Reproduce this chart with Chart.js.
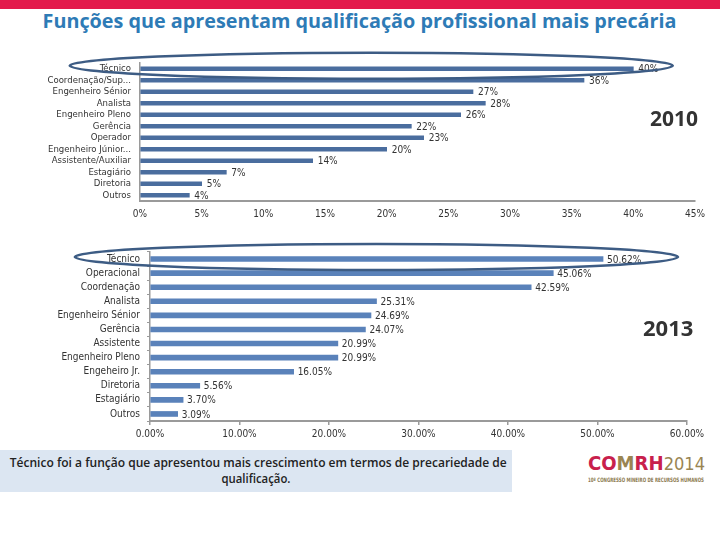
<!DOCTYPE html>
<html lang="pt">
<head>
<meta charset="utf-8">
<title>Funções que apresentam qualificação profissional mais precária</title>
<script src="https://cdn.jsdelivr.net/npm/chart.js@4.4.1/dist/chart.umd.min.js"></script>
<style>
  html, body { margin: 0; padding: 0; background: #fff; }
  #page { position: relative; width: 720px; height: 540px; overflow: hidden; font-family: 'Open Sans', sans-serif; }
  #topbar { position: absolute; left: 0; top: 0; width: 720px; height: 9px; background: #E31B4C; }
  #title { position: absolute; left: 0; top: 9px; width: 720px; height: 24px; text-align: center;
           font-size: 20px; line-height: 24px; font-weight: bold; color: #2E7BB6; white-space: nowrap; }
  .fit { display: inline-block; transform-origin: center center; white-space: nowrap; }
  .fit.left { transform-origin: left center; }
  canvas { position: absolute; left: 0; }
  #c2010 { top: 40px; }
  #c2013 { top: 236px; }
  .year { position: absolute; font-weight: bold; color: #333; line-height: 24px; }
  #note { position: absolute; left: 0; top: 450px; width: 512px; height: 42px; background: #DCE6F2;
          text-align: center; color: #222; font-size: 12.5px; font-weight: 600; }
  #note div { line-height: 16px; height: 16px; }
  #logo { position: absolute; left: 588px; top: 452px; width: 140px; }
  #logo .big { font-family: 'Liberation Sans Narrow', 'DejaVu Sans Condensed', sans-serif; font-size: 20px;
               line-height: 22px; font-weight: bold; white-space: nowrap; }
  #logo .red { color: #C8204C; }
  #logo .gold { color: #9A8552; }
  #logo .yr { font-weight: normal; font-size: 18px; color: #9A8552; }
  #logo .sub { font-family: 'Liberation Sans Narrow', 'DejaVu Sans Condensed', sans-serif; font-size: 6px;
               line-height: 8px; font-weight: bold; color: #8C7A50; white-space: nowrap; margin-top: 1px; }
</style>
</head>
<body>
<div id="page">
  <div id="topbar"></div>
  <div id="title"><span class="fit" data-w="634">Funções que apresentam qualificação profissional mais precária</span></div>

  <canvas id="c2010" width="720" height="190"></canvas>
  <canvas id="c2013" width="720" height="210"></canvas>

  <div class="year" style="left:650px; top:106px; font-size:21px;">2010</div>
  <div class="year" style="left:643px; top:315px; font-size:22px;">2013</div>

  <div id="note">
    <div style="padding-top:5px;"><span class="fit" data-w="497">Técnico foi a função que apresentou mais crescimento em termos de precariedade de</span></div>
    <div><span class="fit" data-w="69">qualificação.</span></div>
  </div>

  <div id="logo">
    <div class="big"><span class="fit left" data-w="117"><span class="red">CO</span><span class="gold">M</span><span class="red">RH</span><span class="yr">2014</span></span></div>
    <div class="sub"><span class="fit left" data-w="116">10º CONGRESSO MINEIRO DE RECURSOS HUMANOS</span></div>
  </div>
</div>

<script>
// ---------------------------------------------------------------------------
//  Data
// ---------------------------------------------------------------------------

const labels2010 = [
  'Técnico', 'Coordenação/Sup...', 'Engenheiro Sénior', 'Analista', 'Engenheiro Pleno',
  'Gerência', 'Operador', 'Engenheiro Júnior...', 'Assistente/Auxiliar', 'Estagiário',
  'Diretoria', 'Outros',
];
const values2010 = [40, 36, 27, 28, 26, 22, 23, 20, 14, 7, 5, 4];
const ticks2010  = [0, 5, 10, 15, 20, 25, 30, 35, 40, 45];

const labels2013 = [
  'Técnico', 'Operacional', 'Coordenação', 'Analista', 'Engenheiro Sénior',
  'Gerência', 'Assistente', 'Engenheiro Pleno', 'Engeheiro Jr.', 'Diretoria',
  'Estagiário', 'Outros',
];
const values2013 = [50.62, 45.06, 42.59, 25.31, 24.69, 24.07, 20.99, 20.99, 16.05, 5.56, 3.70, 3.09];
const ticks2013  = [0, 10, 20, 30, 40, 50, 60];

// ---------------------------------------------------------------------------
//  Text fitting (title, note, logo)
// ---------------------------------------------------------------------------

document.querySelectorAll('.fit').forEach(el => {
  const w = el.getBoundingClientRect().width;
  const target = parseFloat(el.dataset.w);
  if (w > 0) el.style.transform = `scaleX(${target / w})`;
});

// ---------------------------------------------------------------------------
//  Plugins
// ---------------------------------------------------------------------------

const valueLabels = {
  id: 'valueLabels',
  afterDatasetsDraw(chart, args, opts) {
    const { ctx } = chart;
    const data = chart.data.datasets[0].data;
    ctx.save();
    ctx.font = opts.font;
    ctx.fillStyle = opts.color;
    ctx.textAlign = 'left';
    ctx.textBaseline = 'middle';
    chart.getDatasetMeta(0).data.forEach((bar, i) => {
      ctx.fillText(opts.format(data[i]), bar.x + opts.offset, bar.y + 1);
    });
    ctx.restore();
  },
};

// hand-drawn style ring around the first category
const ringMark = {
  id: 'ringMark',
  afterDraw(chart, args, opts) {
    const { ctx } = chart;
    const x = chart.scales.x, y = chart.scales.y;
    const x0 = x.getPixelForValue(opts.from);
    const x1 = x.getPixelForValue(opts.to);
    const cy = y.getPixelForValue(0) + opts.dy;
    ctx.save();
    ctx.strokeStyle = opts.color;
    ctx.lineWidth = opts.width;
    ctx.beginPath();
    ctx.ellipse((x0 + x1) / 2, cy, (x1 - x0) / 2, opts.ry, 0, 0, Math.PI * 2);
    ctx.stroke();
    ctx.restore();
  },
};

// ---------------------------------------------------------------------------
//  Charts
// ---------------------------------------------------------------------------

Chart.defaults.font.family = "'Liberation Sans Narrow', 'DejaVu Sans Condensed', sans-serif";
Chart.defaults.font.size = 10;
Chart.defaults.color = '#333';

function makeChart(id, labels, values, ticks, cfg) {
  return new Chart(document.getElementById(id), {
    type: 'bar',
    data: {
      labels,
      datasets: [{ data: values, backgroundColor: cfg.barColor, barThickness: cfg.barThickness }],
    },
    plugins: [valueLabels, ringMark],
    options: {
      indexAxis: 'y',
      responsive: false,
      animation: false,
      devicePixelRatio: 1,
      layout: { padding: cfg.padding },
      plugins: {
        legend: { display: false },
        tooltip: { enabled: false },
        valueLabels: {
          font: "10px 'Liberation Sans Narrow', 'DejaVu Sans Condensed', sans-serif",
          color: '#333', offset: cfg.labelOffset, format: cfg.format,
        },
        ringMark: cfg.ring,
      },
      scales: {
        x: {
          type: 'linear',
          min: ticks[0], max: ticks[ticks.length - 1],
          ticks: { stepSize: ticks[1] - ticks[0], maxRotation: 0, autoSkip: false,
                   padding: cfg.xTickPad, callback: cfg.tickFmt },
          grid: { drawOnChartArea: false, drawTicks: cfg.tickMarks, tickLength: 4, color: '#9a9a9a', lineWidth: 1.5 },
          border: { color: '#9a9a9a', width: 2 },
          afterFit: s => { s.height = cfg.xHeight; },
        },
        y: {
          ticks: { padding: cfg.yTickPad, autoSkip: false, font: { size: cfg.yFont } },
          grid: { drawOnChartArea: false, drawTicks: cfg.tickMarks, tickLength: 3, color: '#9a9a9a' },
          border: { color: '#9a9a9a', width: 1.5 },
          afterFit: s => { s.width = cfg.yWidth; },
        },
      },
    },
  });
}

makeChart('c2010', labels2010, values2010, ticks2010, {
  barColor: '#4A6D9E', barThickness: 4,
  padding: { top: 23, right: 25, bottom: 0, left: 0 },
  xHeight: 29, yWidth: 140, xTickPad: 7, yTickPad: 9, tickMarks: false, yFont: 9.5,
  labelOffset: 5,
  format: v => v + '%',
  tickFmt: v => v + '%',
  ring: { from: -5.7, to: 43.2, dy: -3, ry: 13, color: '#3D5C84', width: 2.5 },
});

makeChart('c2013', labels2013, values2013, ticks2013, {
  barColor: '#5A82BA', barThickness: 5,
  padding: { top: 16, right: 33, bottom: 0, left: 0 },
  xHeight: 25, yWidth: 150, xTickPad: 3, yTickPad: 7, tickMarks: true, yFont: 10,
  labelOffset: 4,
  format: v => v.toFixed(2) + '%',
  tickFmt: v => v.toFixed(2) + '%',
  ring: { from: -8.4, to: 59.0, dy: -2, ry: 13, color: '#3D5C84', width: 2.5 },
});
</script>
</body>
</html>
